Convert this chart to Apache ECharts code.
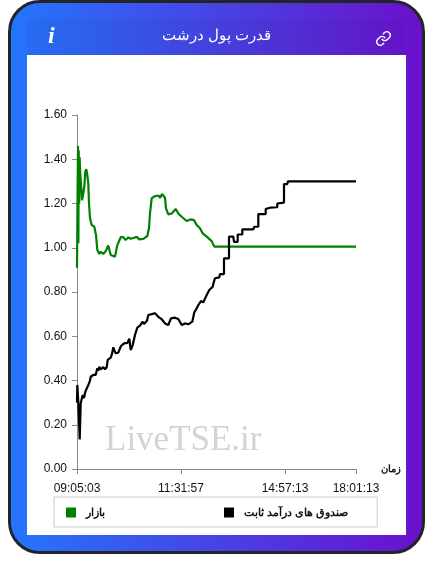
<!DOCTYPE html>
<html><head><meta charset="utf-8">
<style>
html,body{margin:0;padding:0;background:#fff;width:433px;height:574px;overflow:hidden}
#card{position:absolute;left:8px;top:0;width:411px;height:548px;border:3px solid #212529;border-radius:32px;background:linear-gradient(to right,#2575fc,#6a11cb)}
#band{position:absolute;left:27px;top:19px;width:379px;height:36px;background:rgba(0,0,40,.04)}
#white{position:absolute;left:27px;top:55px;width:379px;height:480px;background:#fff}
#chart{position:absolute;left:0;top:0;width:433px;height:574px}
#link{position:absolute;left:375px;top:30px;width:17px;height:17px}
</style></head><body>
<div id="card"></div><div id="band"></div><div id="white"></div>
<svg id="link" viewBox="0 0 24 24" fill="none" stroke="#fff" stroke-width="2" stroke-linecap="round" stroke-linejoin="round"><path d="M10 13a5 5 0 0 0 7.5.5l3-3a5 5 0 0 0-7-7l-1.7 1.7"/><path d="M14 11a5 5 0 0 0-7.5-.5l-3 3a5 5 0 0 0 7 7l1.7-1.7"/></svg>
<div id="chart"></div>
<script src="https://cdn.jsdelivr.net/npm/echarts@6/dist/echarts.min.js"></script>
<script>
const titleText = 'قدرت پول درشت';
const infoText = 'i';
const watermark = 'LiveTSE.ir';
const axisName = 'زمان';
const marketName = 'بازار';
const fundName = 'صندوق های درآمد ثابت';
const tickIndex = [0, 104, 208, 279];
const tickLabels = ['09:05:03', '11:31:57', '14:57:13', '18:01:13'];
const marketIndex = [
  0,0.5,1,1.4,1.7,2.2,2.6,3.2,
  4,5,6.3,7.3,8.3,9.3,10.3,11.3,
  12,13,13.7,14.7,15.7,17.3,19,20.3,
  22.3,23.7,26.3,29,31.3,33.7,38,40.3,
  42.3,44,46.3,48.7,51.3,53.7,56.3,59.7,
  62.3,66.3,70.3,72,73,74.7,77,79.7,
  82,83,85,88,89,91.3,94.7,98.7,
  101.3,104.7,109.7,113.7,117,119.7,123,125.7,
  129.7,134.7,137.3,279];
const marketValues = [
  0.91,1.2,1.46,1.02,1.44,1.2,1.41,1.34,
  1.29,1.215,1.246,1.276,1.344,1.355,1.329,1.29,
  1.20,1.134,1.139,1.103,1.095,1.095,1.058,0.99,
  0.972,0.982,0.972,0.987,1.01,0.967,0.96,1.012,
  1.017,1.05,1.047,1.035,1.047,1.041,1.044,1.049,
  1.038,1.04,1.053,1.088,1.155,1.223,1.231,1.235,
  1.235,1.225,1.243,1.226,1.178,1.151,1.155,1.175,
  1.155,1.14,1.121,1.128,1.125,1.103,1.088,1.065,
  1.05,1.03,1.005,1.005];
const fundIndex = [
  0,0.3,1.3,2,2.7,3.7,5,5.7,
  7,8.3,9.5,10.3,12,13,13.7,15,
  16.3,17.5,18.7,20.3,21.3,22.3,23.5,24.7,
  26.3,28,29.7,30.7,32,33.7,35,36.3,
  37.5,38.7,40,41.3,44,45.5,47,49,
  50.5,52.3,53.7,55.7,58,59,60.3,61.5,
  63,64.5,65.7,67,69,70,71.3,74.7,
  76,78,81.3,84.7,88,91.3,94,98,
  101.3,104.7,108,111.3,115.3,117.3,119,121.3,
  124,126.3,128,129.7,132.3,135.7,136.5,138,
  142.3,143,147,147,152,152,156.3,157,
  160.7,160.7,165.3,165.3,176.3,177.3,181.3,181.3,
  188.7,188.7,193,200.3,200.3,207,207,210.3,
  211,279];
const fundValues = [
  0.30,0.38,0.304,0.297,0.134,0.297,0.289,0.334,
  0.321,0.349,0.34,0.347,0.387,0.40,0.417,0.41,
  0.425,0.43,0.425,0.455,0.445,0.462,0.45,0.455,
  0.46,0.45,0.46,0.493,0.49,0.503,0.52,0.55,
  0.535,0.523,0.515,0.526,0.556,0.55,0.568,0.575,
  0.57,0.589,0.538,0.56,0.606,0.60,0.639,0.63,
  0.648,0.64,0.666,0.655,0.651,0.67,0.696,0.70,
  0.695,0.704,0.688,0.677,0.658,0.651,0.681,0.684,
  0.678,0.651,0.658,0.654,0.666,0.708,0.72,0.741,
  0.759,0.753,0.77,0.786,0.809,0.824,0.84,0.862,
  0.866,0.881,0.881,0.952,0.952,1.05,1.05,1.027,
  1.027,1.06,1.06,1.083,1.083,1.095,1.095,1.152,
  1.152,1.175,1.181,1.183,1.20,1.204,1.288,1.288,
  1.30,1.30];
const pairs = (xs, ys) => xs.map((x, i) => [x, ys[i]]);
const chart = echarts.init(document.getElementById('chart'), null, {renderer: 'canvas'});
chart.setOption({
  animation: false,
  backgroundColor: 'transparent',
  title: {text: titleText, left: 'center', top: 28, padding: 0,
    textStyle: {color: '#fff', fontSize: 15, fontWeight: 'normal', fontFamily: '"Liberation Sans"'}},
  graphic: [
    {type: 'text', left: 105, top: 423, z: 0, silent: true,
      style: {text: watermark, fill: '#d3d3d3', font: '35px "Liberation Serif"'}},
    {type: 'text', left: 48, top: 25, style: {text: infoText, fill: '#fff', font: 'italic bold 24px "Liberation Serif"'}}
  ],
  grid: {left: 77, top: 115, width: 279, height: 354, containLabel: false},
  legend: {
    left: 54, top: 497, orient: 'horizontal', padding: [10, 29, 9, 12], itemGap: 119,
    itemWidth: 10, itemHeight: 10, icon: 'rect', borderColor: '#ccc', borderWidth: 1,
    data: [marketName, fundName],
    textStyle: {color: '#111', fontSize: 11, fontWeight: 'bold', fontFamily: '"Liberation Sans"', padding: [0, 0, 0, 5]}
  },
  xAxis: {
    type: 'value', min: 0, max: 279, name: axisName, nameLocation: 'end', nameGap: 25,
    nameTextStyle: {color: '#111', fontSize: 10, fontWeight: 'bold', fontFamily: '"Liberation Sans"', padding: [0, 0, 4, 0]},
    axisLine: {lineStyle: {color: '#888'}},
    axisTick: {customValues: tickIndex, length: 5, lineStyle: {color: '#888'}},
    axisLabel: {customValues: tickIndex, margin: 14, color: '#111', fontSize: 12, fontFamily: '"Liberation Sans"',
      formatter: v => tickLabels[tickIndex.indexOf(v)]},
    splitLine: {show: false}
  },
  yAxis: {
    type: 'value', min: 0, max: 1.6, interval: 0.2,
    axisLine: {show: true, lineStyle: {color: '#888'}},
    axisTick: {show: true, length: 5, lineStyle: {color: '#888'}},
    axisLabel: {margin: 10, color: '#111', fontSize: 12, fontFamily: '"Liberation Sans"', verticalAlign: 'middle', lineHeight: 14, padding: [2, 0, 0, 0], formatter: v => v.toFixed(2)},
    splitLine: {show: false}
  },
  series: [
    {name: marketName, type: 'line', showSymbol: false, symbol: 'none', color: '#008000', lineStyle: {width: 2.2, color: '#008000'}, data: pairs(marketIndex, marketValues), z: 3},
    {name: fundName, type: 'line', showSymbol: false, symbol: 'none', color: '#000', lineStyle: {width: 2.2, color: '#000'}, data: pairs(fundIndex, fundValues), z: 4}
  ]
});
</script></body></html>
